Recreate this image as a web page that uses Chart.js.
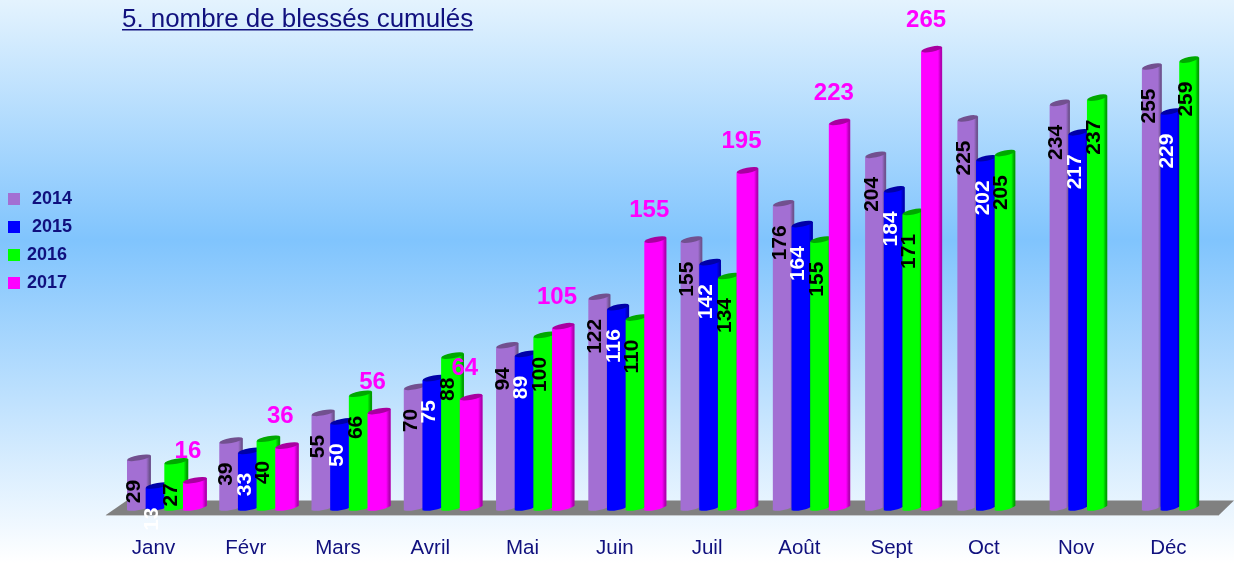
<!DOCTYPE html>
<html lang="fr">
<head>
<meta charset="utf-8">
<title>Nombre de blessés cumulés</title>
<style>
  html, body { margin: 0; padding: 0; }
  body { width: 1234px; height: 563px; overflow: hidden; background: linear-gradient(#e4f3fe 0, #80c4fd 240px, #ffffff 563px); }
  canvas { display: block; }
</style>
<script src="https://cdn.jsdelivr.net/npm/chart.js@4"></script>
</head>
<body>
<canvas id="blessesChart" width="1234" height="563"></canvas>
<script>
const mois = ["Janv", "Févr", "Mars", "Avril", "Mai", "Juin", "Juil", "Août", "Sept", "Oct", "Nov", "Déc"];
const annees = [" 2014", " 2015", "2016", "2017"];
const blesses2014 = [29, 39, 55, 70, 94, 122, 155, 176, 204, 225, 234, 255];
const blesses2015 = [13, 33, 50, 75, 89, 116, 142, 164, 184, 202, 217, 229];
const blesses2016 = [27, 40, 66, 88, 100, 110, 134, 155, 171, 205, 237, 259];
const blesses2017 = [16, 36, 56, 64, 105, 155, 195, 223, 265, null, null, null];

const couleurs = ["#a36fd3", "#0000ff", "#00ff00", "#ff00ff"];
const couleursHaut = ["#72508f", "#0000a8", "#00a800", "#a800a0"];
const couleursBord = ["#6f5390", "#0000b0", "#00a000", "#b000b0"];
const couleursTexte = ["#000000", "#ffffff", "#000000", "#ff00ff"];
const bleuFonce = "#10107e";

Chart.defaults.font.family = "'Liberation Sans', Arial, sans-serif";

function dessinerSol(ctx, area) {
  ctx.fillStyle = "#808080";
  ctx.beginPath();
  ctx.moveTo(area.left - 15, area.bottom + 7);
  ctx.lineTo(area.left + 6, area.bottom - 7.5);
  ctx.lineTo(area.right + 6, area.bottom - 7.5);
  ctx.lineTo(area.right - 9, area.bottom + 7);
  ctx.closePath();
  ctx.fill();
  ctx.fillStyle = "#c4c8cc";
  ctx.fillRect(area.left - 15, area.bottom + 7, area.right - area.left + 6, 1);
}

function dessinerCylindre(ctx, bar, i, j) {
  // les cylindres s'affinent un peu vers la droite (perspective)
  const w = bar.width - (4 * j) / 11;
  const g = bar.x - bar.width / 2;
  const d = g + w;
  const cx = g + w / 2;
  const pente = 2.2;

  const grad = ctx.createLinearGradient(g, 0, d, 0);
  grad.addColorStop(0, couleurs[i]);
  grad.addColorStop(0.8, couleurs[i]);
  grad.addColorStop(0.94, couleursBord[i]);
  grad.addColorStop(1, couleursBord[i]);

  // corps du cylindre
  ctx.fillStyle = grad;
  ctx.beginPath();
  ctx.moveTo(g, bar.y + pente);
  ctx.lineTo(g, bar.base + pente);
  ctx.bezierCurveTo(g + w * 0.3, bar.base + pente + 2, d - w * 0.2, bar.base + 1, d, bar.base - pente);
  ctx.lineTo(d, bar.y - pente);
  ctx.closePath();
  ctx.fill();

  // dessus
  ctx.fillStyle = couleursHaut[i];
  ctx.beginPath();
  ctx.ellipse(cx, bar.y, w / 2, 2.6, -Math.atan((2 * pente) / w), 0, Math.PI * 2);
  ctx.fill();
}

function dessinerValeur(ctx, bar, valeur, i) {
  ctx.fillStyle = couleursTexte[i];
  ctx.textBaseline = "middle";
  if (i === 3) {
    ctx.textAlign = "center";
    ctx.font = "bold 24px 'Liberation Sans'";
    ctx.fillText(valeur, bar.x - 7, bar.y - 29);
    return;
  }
  // valeurs verticales, calées sur le haut du cylindre
  ctx.save();
  ctx.translate(bar.x - 5, bar.y + 22);
  ctx.rotate(-Math.PI / 2);
  ctx.textAlign = "right";
  ctx.font = "bold 21px 'Liberation Sans'";
  ctx.fillText(valeur, 0, 0);
  ctx.restore();
}

const cylindres = {
  id: "cylindres",
  afterLayout(chart) {
    chart.legend.left = 0;
    chart.legend.top = 180;
    chart.titleBlock.left = 122;
  },
  beforeDatasetsDraw(chart) {
    const ctx = chart.ctx;
    dessinerSol(ctx, chart.chartArea);
    chart.data.datasets.forEach((ds, i) => {
      chart.getDatasetMeta(i).data.forEach((bar, j) => {
        if (ds.data[j] !== null) dessinerCylindre(ctx, bar, i, j);
      });
    });
    chart.data.datasets.forEach((ds, i) => {
      chart.getDatasetMeta(i).data.forEach((bar, j) => {
        if (ds.data[j] !== null) dessinerValeur(ctx, bar, ds.data[j], i);
      });
    });
    return false;
  },
  afterDraw(chart) {
    // souligné du titre
    const ctx = chart.ctx;
    ctx.font = "25.9px 'Liberation Sans'";
    const largeur = ctx.measureText(chart.options.plugins.title.text).width;
    ctx.fillStyle = bleuFonce;
    ctx.fillRect(122, 29, largeur, 1.5);
  },
};

new Chart(document.getElementById("blessesChart"), {
  type: "bar",
  data: {
    labels: mois,
    datasets: [
      { label: annees[0], data: blesses2014, backgroundColor: couleurs[0] },
      { label: annees[1], data: blesses2015, backgroundColor: couleurs[1] },
      { label: annees[2], data: blesses2016, backgroundColor: couleurs[2] },
      { label: annees[3], data: blesses2017, backgroundColor: couleurs[3] },
    ],
  },
  options: {
    responsive: false,
    animation: false,
    categoryPercentage: 0.809,
    barPercentage: 1.285,
    layout: { padding: { left: 38.8, right: 6, top: 0, bottom: 0 } },
    plugins: {
      tooltip: { enabled: false },
      title: {
        display: true,
        text: "5. nombre de blessés cumulés",
        align: "start",
        color: bleuFonce,
        font: { size: 25.9, weight: "normal" },
        padding: { top: 4, bottom: 2 },
      },
      legend: {
        position: "left",
        align: "start",
        labels: {
          usePointStyle: true,
          pointStyle: "rect",
          boxWidth: 8,
          boxHeight: 12,
          padding: 10,
          color: bleuFonce,
          font: { size: 18, weight: "bold" },
        },
      },
    },
    scales: {
      x: {
        afterFit(scale) {
          scale.height = 55;
        },
        grid: { display: false, drawTicks: false },
        border: { display: false },
        ticks: { color: bleuFonce, font: { size: 20.5 }, padding: 28, labelOffset: -13.5, maxRotation: 0, autoSkip: false },
      },
      y: {
        display: false,
        min: 0,
        max: 272,
      },
    },
  },
  plugins: [cylindres],
});
</script>
</body>
</html>
